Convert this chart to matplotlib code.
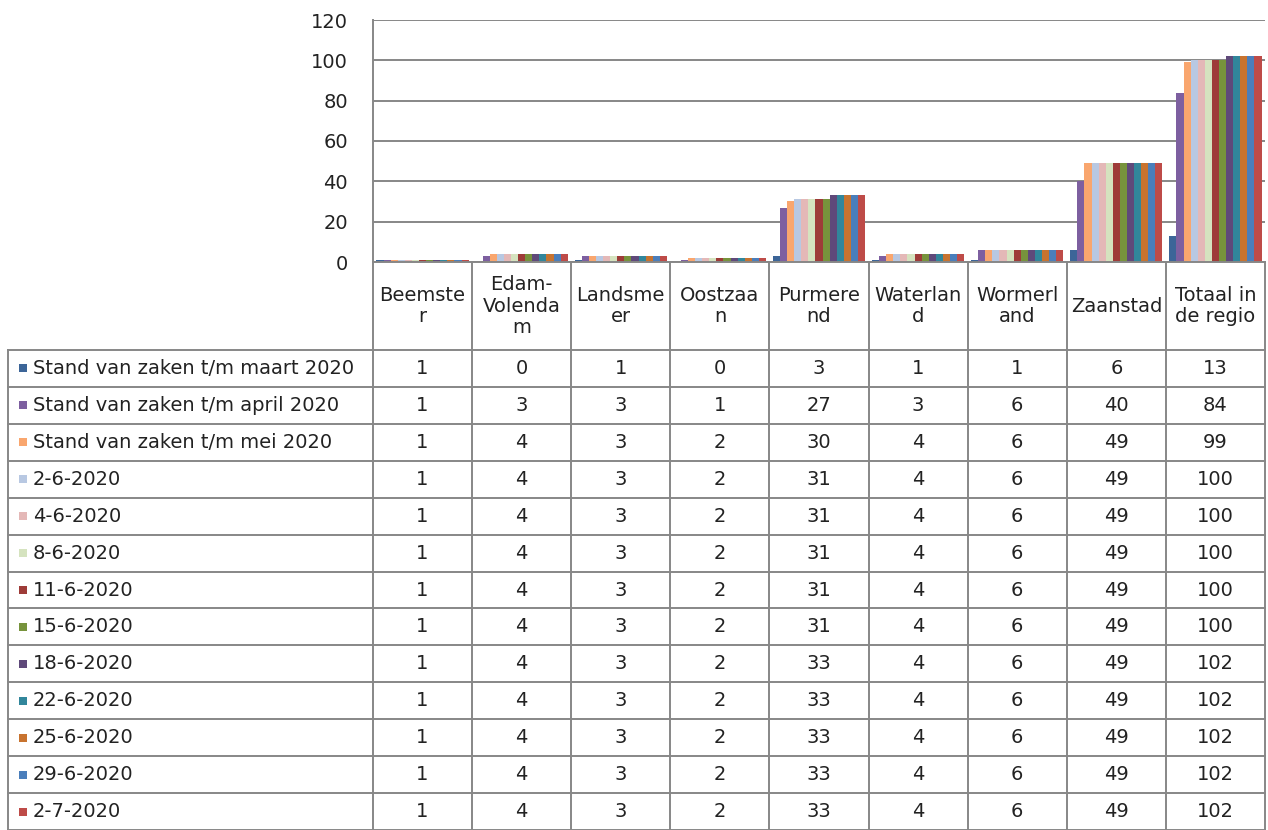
import matplotlib
matplotlib.use('Agg')
import matplotlib.pyplot as plt
import numpy as np

# data
categories = ['Beemste\nr', 'Edam-\nVolenda\nm', 'Landsme\ner', 'Oostzaa\nn', 'Purmere\nnd',
              'Waterlan\nd', 'Wormerl\nand', 'Zaanstad', 'Totaal in\nde regio']
series_names = ['Stand van zaken t/m maart 2020', 'Stand van zaken t/m april 2020',
                'Stand van zaken t/m mei 2020', '2-6-2020', '4-6-2020', '8-6-2020',
                '11-6-2020', '15-6-2020', '18-6-2020', '22-6-2020', '25-6-2020',
                '29-6-2020', '2-7-2020']
maart = [1, 0, 1, 0, 3, 1, 1, 6, 13]
april = [1, 3, 3, 1, 27, 3, 6, 40, 84]
mei = [1, 4, 3, 2, 30, 4, 6, 49, 99]
d_2_6 = [1, 4, 3, 2, 31, 4, 6, 49, 100]
d_4_6 = [1, 4, 3, 2, 31, 4, 6, 49, 100]
d_8_6 = [1, 4, 3, 2, 31, 4, 6, 49, 100]
d_11_6 = [1, 4, 3, 2, 31, 4, 6, 49, 100]
d_15_6 = [1, 4, 3, 2, 31, 4, 6, 49, 100]
d_18_6 = [1, 4, 3, 2, 33, 4, 6, 49, 102]
d_22_6 = [1, 4, 3, 2, 33, 4, 6, 49, 102]
d_25_6 = [1, 4, 3, 2, 33, 4, 6, 49, 102]
d_29_6 = [1, 4, 3, 2, 33, 4, 6, 49, 102]
d_2_7 = [1, 4, 3, 2, 33, 4, 6, 49, 102]
series_values = [maart, april, mei, d_2_6, d_4_6, d_8_6, d_11_6, d_15_6,
                 d_18_6, d_22_6, d_25_6, d_29_6, d_2_7]
colors = ['#3C6598', '#7D5FA0', '#F9A66E', '#B8C8E2', '#E4B8B7', '#D5E3BF',
          '#9E3B38', '#77933C', '#5F497A', '#31869B', '#C8732F', '#4A7EBB', '#BE4B48']

W, H = 1268, 830
FONT = 'DejaVu Sans'
FS = 14
GRID = '#878787'

fig = plt.figure(figsize=(W / 100, H / 100), dpi=100)
fig.patch.set_facecolor('white')

# plot area in pixels
px_left, px_right, px_top, px_bottom = 373, 1265, 20, 262
ax = fig.add_axes([px_left / W, 1 - px_bottom / H, (px_right - px_left) / W,
                   (px_bottom - px_top) / H])
n_cat = len(categories)
n_ser = len(series_values)
group = 0.93
bw = group / n_ser
x = np.arange(n_cat)
for i, vals in enumerate(series_values):
    ax.bar(x - group / 2 + bw * (i + 0.5), vals, width=bw, color=colors[i],
           linewidth=0, zorder=3)
ax.set_xlim(-0.5, n_cat - 0.5)
ax.set_ylim(0, 120)
ax.set_yticks(range(0, 121, 20))
ax.set_yticklabels([str(v) for v in range(0, 121, 20)], fontsize=FS, family=FONT,
                   color='#222222')
ax.tick_params(axis='y', length=0, pad=18)
ax.set_xticks([])
ax.yaxis.grid(True, color=GRID, linewidth=1.4, zorder=0)
for s in ['top', 'right', 'bottom']:
    ax.spines[s].set_visible(False)
ax.spines['left'].set_color(GRID)
ax.spines['left'].set_linewidth(1.4)

# data table drawn in pixel coordinates
tab = fig.add_axes([0, 0, 1, 1])
tab.set_xlim(0, W)
tab.set_ylim(H, 0)
tab.axis('off')
tab.patch.set_alpha(0)

col_edges = np.linspace(px_left, px_right, n_cat + 1)
header_bottom = 350
row_h = (H - header_bottom) / n_ser
table_left = 8

tab.plot([px_left, px_right], [px_bottom, px_bottom], color=GRID, lw=1.4)
for xe in col_edges:
    tab.plot([xe, xe], [px_bottom, H], color=GRID, lw=1.4)
tab.plot([table_left, table_left], [header_bottom, H], color=GRID, lw=1.4)
for r in range(n_ser + 1):
    y = header_bottom + r * row_h
    tab.plot([table_left, px_right], [y, y], color=GRID, lw=1.4)

for c, name in enumerate(categories):
    cx = (col_edges[c] + col_edges[c + 1]) / 2
    tab.text(cx, (px_bottom + header_bottom) / 2, name, ha='center', va='center',
             fontsize=FS, family=FONT, color='#222222', linespacing=1.15)

for r, (name, vals) in enumerate(zip(series_names, series_values)):
    cy = header_bottom + (r + 0.5) * row_h
    tab.add_patch(plt.Rectangle((19, cy - 4), 8, 8, color=colors[r], lw=0))
    tab.text(33, cy, name, ha='left', va='center', fontsize=FS, family=FONT,
             color='#222222')
    for c, v in enumerate(vals):
        cx = (col_edges[c] + col_edges[c + 1]) / 2
        tab.text(cx, cy, str(v), ha='center', va='center', fontsize=FS,
                 family=FONT, color='#222222')

fig.savefig('out.png', dpi=100, facecolor='white')
